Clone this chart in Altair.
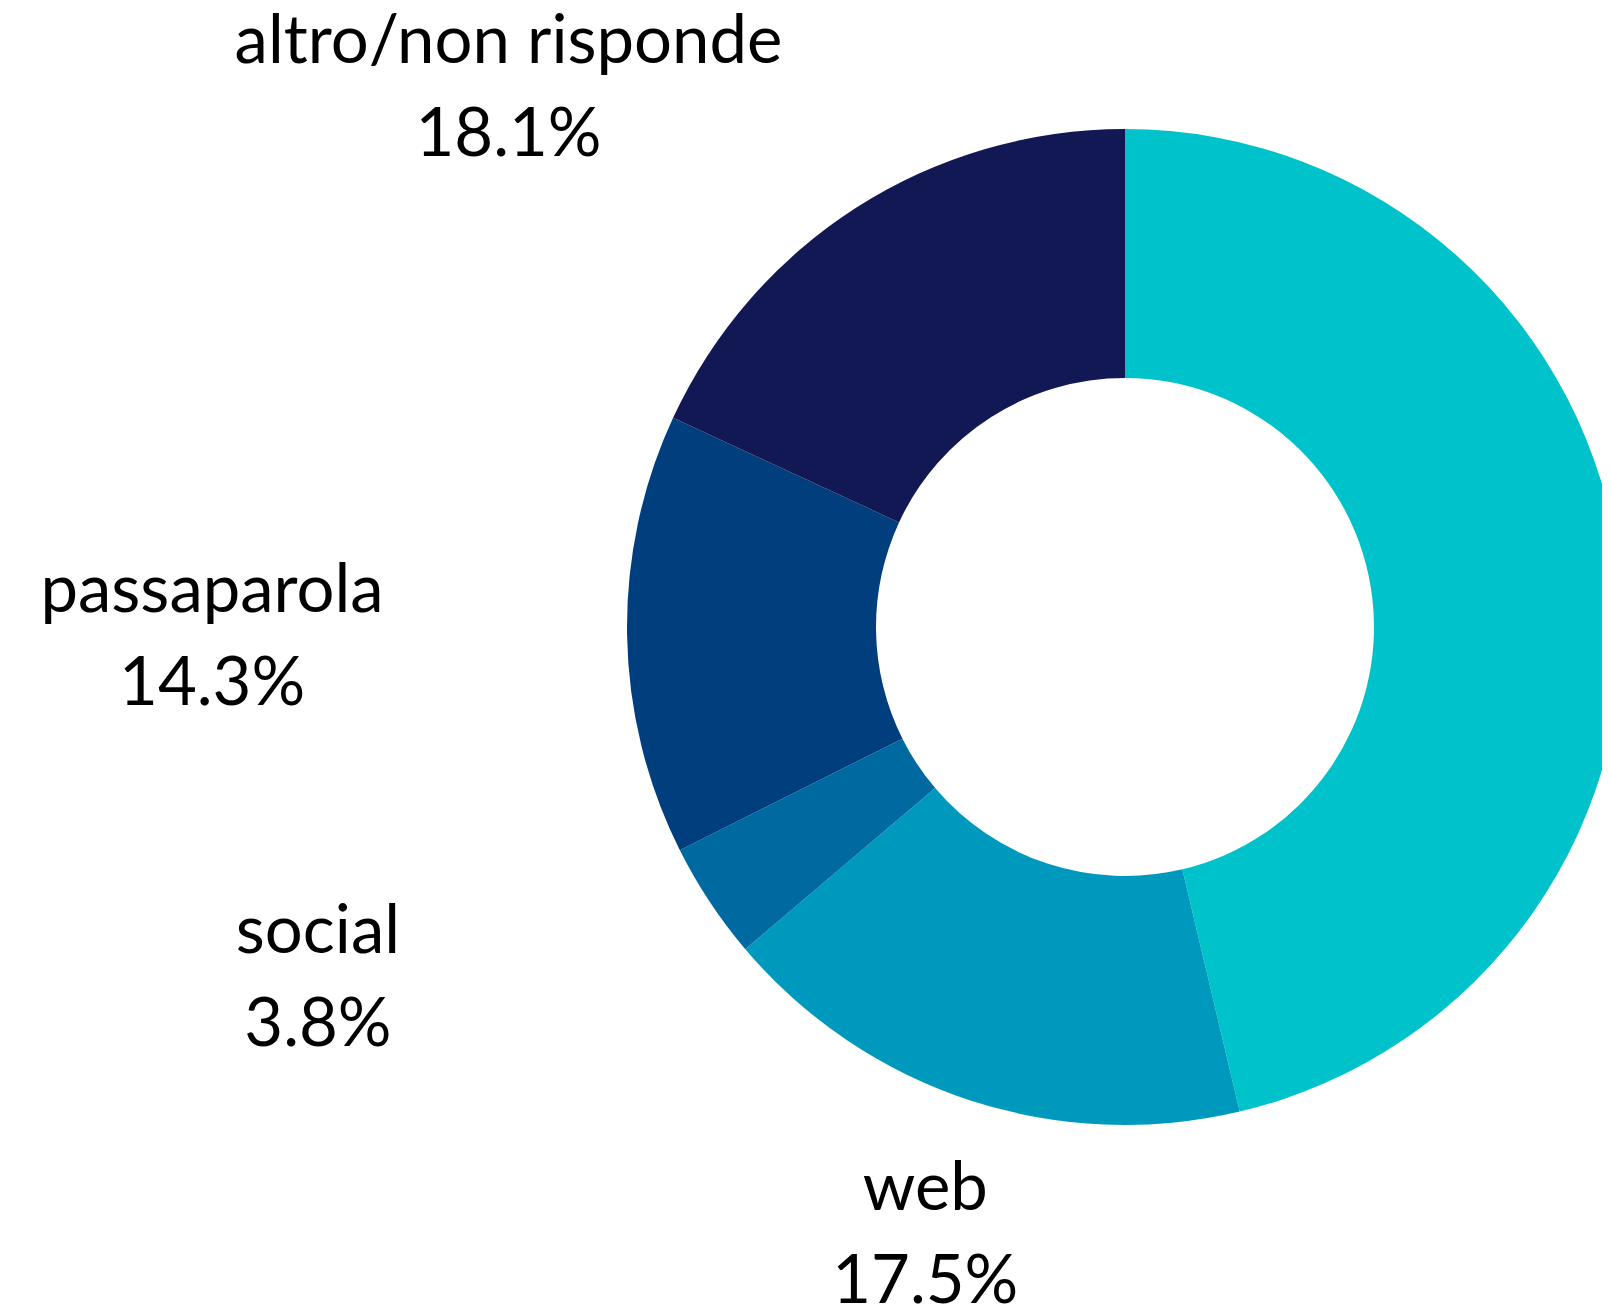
import math
import altair as alt
import pandas as pd

# --- data -------------------------------------------------------------
categories = ["canale principale", "web", "social", "passaparola", "altro/non risponde"]
values = [46.3, 17.5, 3.8, 14.3, 18.1]
colors = ["#00C2CB", "#0099BE", "#0069A0", "#003E7D", "#111853"]

# --- layout -----------------------------------------------------------
W, H = 1594, 1296
CX, CY = 1117, 619
R_OUT, R_IN = 498, 249
R_LABEL = 560
FONT_SIZE = 67
LINE_H = 93
label_nudge = {
    "web": (-25, 77),
    "social": (-340, 44),
    "passaparola": (-353, 3),
    "altro/non risponde": (-315, -66),
}

df = pd.DataFrame({"category": categories, "value": values,
                   "idx": list(range(len(categories)))})

total = sum(values)
cum = 0.0
rows = []
for c, v in zip(categories, values):
    mid = (cum + v / 2) / total * 2 * math.pi
    cum += v
    if c in label_nudge:
        dx, dy = label_nudge[c]
        rows.append({
            "label": f"{c}\n{v:.1f}%",
            "lx": CX + R_LABEL * math.sin(mid) + dx,
            "ly": CY - R_LABEL * math.cos(mid) + dy - LINE_H / 2,
        })
labels = pd.DataFrame(rows)

arcs = alt.Chart(df).mark_arc(radius=R_OUT, innerRadius=R_IN, clip=True).encode(
    theta=alt.Theta("value:Q", stack=True),
    order=alt.Order("idx:Q"),
    color=alt.Color("category:N",
                    scale=alt.Scale(domain=categories, range=colors),
                    legend=None),
    x=alt.value(CX),
    y=alt.value(CY),
)

text = alt.Chart(labels).mark_text(
    font="Lato", fontSize=FONT_SIZE, lineBreak="\n", lineHeight=LINE_H,
    align="center", baseline="middle", color="#000000",
).encode(
    x=alt.X("lx:Q", scale=None, axis=None),
    y=alt.Y("ly:Q", scale=None, axis=None),
    text="label:N",
)

chart = alt.layer(arcs, text).properties(
    width=W, height=H, padding=0, autosize="none"
).configure_view(stroke=None)

chart.save("out.html", embed_options={"renderer": "svg", "actions": False})
